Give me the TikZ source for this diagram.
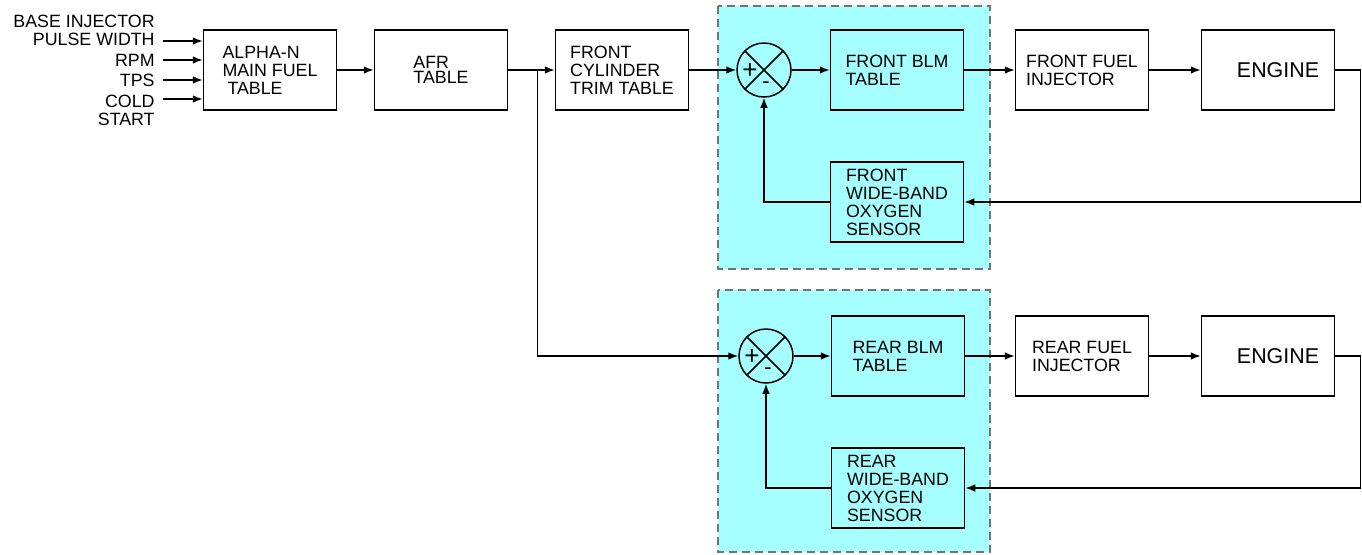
\documentclass[tikz,border=0pt]{standalone}
\usepackage{fontspec}
\setmainfont{Liberation Sans}
\usetikzlibrary{arrows.meta}
\definecolor{loopcyan}{RGB}{166,255,255}
\definecolor{dashgray}{RGB}{115,115,115}

\begin{document}
\begin{tikzpicture}[x=0.5pt,y=-0.5pt,>={Latex[length=5pt,width=3.8pt]},
    font=\fontsize{8.9}{9}\selectfont,
    block/.style={draw,line width=0.75pt,minimum width=66.5pt,minimum height=40pt,
      align=left,inner sep=0pt},
    sumjn/.style={draw,circle,line width=0.75pt,minimum size=27pt,inner sep=0pt},
    lbl/.style={align=right,anchor=east,inner sep=0pt},
    loopbox/.style={fill=loopcyan,draw=dashgray,dash pattern=on 4pt off 2.5pt,line width=0.6pt},
    link/.style={line width=0.75pt}]
    \useasboundingbox (0,0) rectangle (1362,554);
    \draw[loopbox] (718,6) rectangle (990,269);
    \draw[loopbox] (718,290) rectangle (990,552);

    % inputs
    \node[lbl] (base) at (155,30) {BASE INJECTOR\\PULSE WIDTH};
    \node[lbl] (rpm) at (155,60) {RPM};
    \node[lbl] (tps) at (155,80) {TPS};
    \node[lbl] (cold) at (155,110) {COLD\\START};

    % front bank
    \node[block] (alpha) at (270,70) {ALPHA-N\\MAIN FUEL\\\hspace*{2.5pt}TABLE};
    \node[block,font=\fontsize{8.9}{7.4}\selectfont] (afr) at (441,70) {AFR\\TABLE};
    \node[block] (trim) at (622,70) {FRONT\\CYLINDER\\TRIM TABLE};
    \node[sumjn] (sumf) at (764,70) {};
    \node[block] (blmf) at (897,70) {FRONT BLM\\TABLE};
    \node[block] (injf) at (1082,70) {FRONT FUEL\\INJECTOR};
    \node[block,font=\fontsize{10.7}{11}\selectfont] (engf) at (1268,70) {\hspace*{10pt}ENGINE};
    \node[block] (o2f) at (897,202) {FRONT\\WIDE-BAND\\OXYGEN\\SENSOR};

    % rear bank
    \node[sumjn] (sumr) at (766,356) {};
    \node[block] (blmr) at (898,356) {REAR BLM\\TABLE};
    \node[block] (injr) at (1082,356) {REAR FUEL\\INJECTOR};
    \node[block,font=\fontsize{10.7}{11}\selectfont] (engr) at (1268,356) {\hspace*{10pt}ENGINE};
    \node[block] (o2r) at (898,488) {REAR\\WIDE-BAND\\OXYGEN\\SENSOR};

    \foreach \s in {sumf,sumr} {
      \draw[link] (\s.north west) -- (\s.south east) (\s.north east) -- (\s.south west);
      \node[font=\fontsize{13}{13}\selectfont] (\s plus) at ([shift={(-14,1)}]\s.center) {+};
      \node[font=\fontsize{11}{11}\selectfont] (\s minus) at ([shift={(2,15)}]\s.center) {-};
    }

    \coordinate (pwin) at ([shift={(8,11)}]base.east);
    \coordinate (rpmin) at ([shift={(8,0)}]rpm.east);
    \coordinate (tpsin) at ([shift={(8,0)}]tps.east);
    \coordinate (coldin) at ([shift={(8,-11)}]cold.east);
    \foreach \c in {pwin,rpmin,tpsin,coldin}
      \draw[link,->] (\c) -- (\c -| alpha.west);

    \draw[link,->] (alpha) -- (afr);
    \draw[link,->] (afr) -- (trim);
    \draw[link,->] (trim) -- (sumf);
    \draw[link,->] (sumf) -- (blmf);
    \draw[link,->] (blmf) -- (injf);
    \draw[link,->] (injf) -- (engf);
    \draw[link,->] (engf.east) -- ++(25,0) |- (o2f.east);
    \draw[link,->] (o2f.west) -| (sumf.south);

    \coordinate (split) at ([shift={(29,0)}]afr.east);
    \draw[link,->] (split) |- (sumr.west);
    \draw[link,->] (sumr) -- (blmr);
    \draw[link,->] (blmr) -- (injr);
    \draw[link,->] (injr) -- (engr);
    \draw[link,->] (engr.east) -- ++(25,0) |- (o2r.east);
    \draw[link,->] (o2r.west) -| (sumr.south);
  \end{tikzpicture}
\end{document}
